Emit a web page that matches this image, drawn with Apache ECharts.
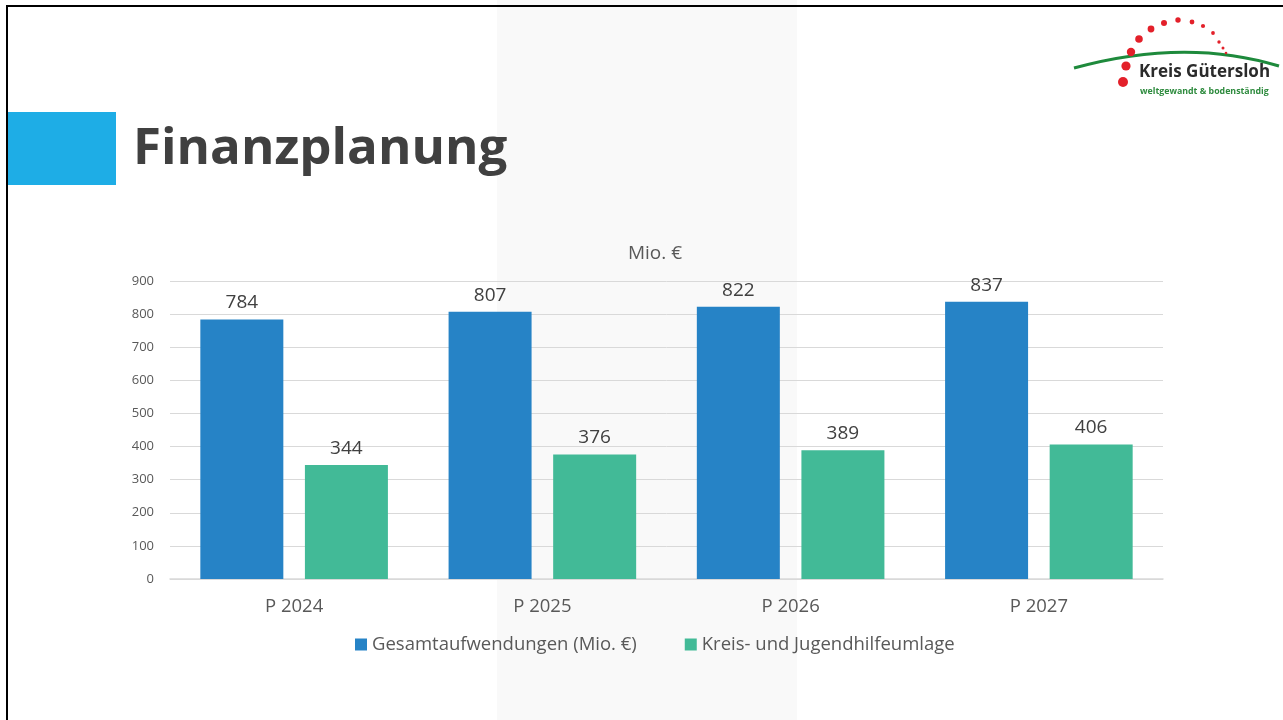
<!DOCTYPE html>
<html>
<head>
<meta charset="utf-8">
<script src="https://cdn.jsdelivr.net/npm/echarts@6/dist/echarts.min.js"></script>
<style>
  html, body { margin: 0; padding: 0; background: #fff; }
  #main { width: 1283px; height: 720px; }
</style>
</head>
<body>
<div id="main"></div>
<script>
// Daten
var categories = ['P 2024', 'P 2025', 'P 2026', 'P 2027'];
var gesamt = [784, 807, 822, 837];
var umlage = [344, 376, 389, 406];
var seriesNames = ['Gesamtaufwendungen (Mio. €)', 'Kreis- und Jugendhilfeumlage'];

var chart = echarts.init(document.getElementById('main'), null, { renderer: 'canvas' });

// Logo-Punkte (Bogen)
var dots = [
  [1123, 82, 5], [1126, 66, 4.6], [1131, 52, 4.2], [1139, 39, 3.8], [1151, 29, 3.4],
  [1164, 23, 3], [1178, 20, 2.7], [1192, 22, 2.4], [1203, 26, 2.1], [1213, 33, 1.9],
  [1219, 42, 1.7], [1223, 48, 1.5], [1226, 53, 1.3]
];
var dotShapes = dots.map(function (d) {
  return { type: 'circle', shape: { cx: d[0], cy: d[1], r: d[2] }, style: { fill: '#e3202a' }, z: 5 };
});

var labelFont = '"Open Sans", sans-serif';

var option = {
  backgroundColor: '#ffffff',
  textStyle: { fontFamily: labelFont },
  title: {
    text: 'Mio. €',
    left: 650,
    top: 239,
    textAlign: 'center',
    textStyle: { fontSize: 19, fontWeight: 'normal', color: '#595959', fontFamily: labelFont }
  },
  graphic: [
    // heller Hintergrundstreifen
    { type: 'rect', shape: { x: 497, y: 0, width: 300, height: 720 }, style: { fill: '#f9f9f9' }, z: -10 },
    // Rahmen
    { type: 'rect', shape: { x: 7, y: 6, width: 1290, height: 730 }, style: { fill: null, stroke: '#000', lineWidth: 2 }, z: 10 },
    // blauer Block
    { type: 'rect', shape: { x: 8, y: 112, width: 108, height: 73 }, style: { fill: '#1eade6' }, z: 5 },
    {
      type: 'text', left: 133, top: 124, z: 5,
      style: { text: 'Finanzplanung', fontSize: 51, fontWeight: 'bold', fill: '#404040', fontFamily: labelFont }
    },
    // Logo
    {
      type: 'bezierCurve', z: 4,
      shape: { x1: 1074, y1: 68, x2: 1279, y2: 66, cpx1: 1150, cpy1: 47, cpx2: 1220, cpy2: 48 },
      style: { stroke: '#1e8a3c', lineWidth: 3, fill: null }
    },
    {
      type: 'text', left: 1139, top: 64, z: 6,
      style: { text: 'Kreis Gütersloh', fontSize: 17, fontWeight: 'bold', fill: '#2b2b2b', fontFamily: labelFont }
    },
    {
      type: 'text', left: 1140, top: 87, z: 6,
      style: { text: 'weltgewandt & bodenständig', fontSize: 8.8, fontWeight: 'bold', fill: '#2e8b3e', fontFamily: labelFont }
    }
  ].concat(dotShapes),
  legend: {
    left: 350,
    top: 630,
    itemWidth: 12,
    itemHeight: 12,
    itemGap: 48,
    icon: 'rect',
    textStyle: { fontSize: 18.5, color: '#595959', fontFamily: labelFont },
    data: seriesNames
  },
  grid: { left: 170, right: 120, top: 281, bottom: 141, containLabel: false },
  xAxis: {
    type: 'category',
    data: categories,
    axisLine: { lineStyle: { color: '#d9d9d9', width: 1.5 } },
    axisTick: { show: false },
    axisLabel: { fontSize: 18.5, color: '#595959', margin: 18, fontFamily: labelFont }
  },
  yAxis: {
    type: 'value',
    min: 0,
    max: 900,
    interval: 100,
    axisLine: { show: false },
    axisTick: { show: false },
    splitLine: { lineStyle: { color: '#d9d9d9' } },
    axisLabel: { fontSize: 13, color: '#595959', margin: 16, fontFamily: labelFont }
  },
  series: [
    {
      name: seriesNames[0],
      type: 'bar',
      data: gesamt,
      barWidth: 83,
      barGap: '26%',
      itemStyle: { color: '#2683c6' },
      label: { show: true, position: 'top', distance: 7, fontSize: 19, color: '#404040', fontFamily: labelFont }
    },
    {
      name: seriesNames[1],
      type: 'bar',
      data: umlage,
      barWidth: 83,
      barGap: '26%',
      itemStyle: { color: '#42ba97' },
      label: { show: true, position: 'top', distance: 7, fontSize: 19, color: '#404040', fontFamily: labelFont }
    }
  ]
};

chart.setOption(option);
</script>
</body>
</html>
